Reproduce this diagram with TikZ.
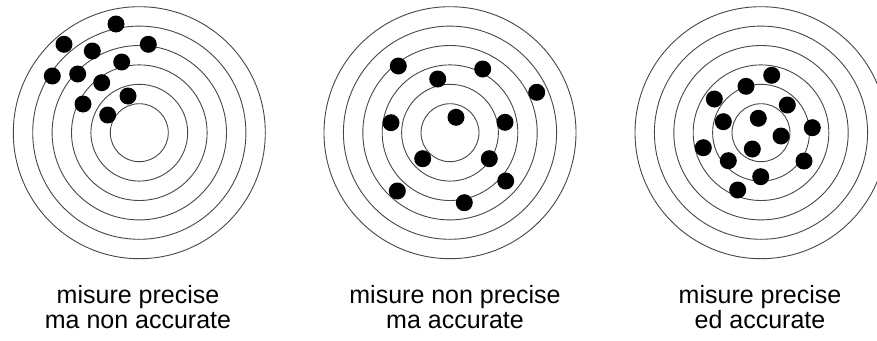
\documentclass[tikz,border=0pt]{standalone}
\usepackage{fontspec}
\setmainfont{Liberation Sans}
\usetikzlibrary{positioning}
\tikzset{
  ring/.style = {draw=black!72, line width=0.9pt},
  hit/.style = {circle, fill=black, inner sep=0pt, minimum size=17pt},
  caption/.style = {align=center, inner sep=0pt,
    font=\fontsize{25}{25}\selectfont},
}

\begin{document}
\begin{tikzpicture}[x=1pt, y=-1pt]
  \useasboundingbox (0,0) rectangle (877,340);
  \clip (0,0) rectangle (877,340);

  % target centres
  \coordinate (tA) at (139.3,132.7);
  \coordinate (tB) at (450,132.7);
  \coordinate (tC) at (761,132.7);

  % rings
  \foreach \t in {tA,tB,tC}
    \foreach \r in {29,48.4,67.8,87.2,106.6,126}
      \draw[ring] (\t) circle[radius=\r pt];

  % precise, not accurate
  \foreach \p [count=\i] in {(116,24),(64,44.3),(92.3,51),(148.3,44.3),
      (121.7,62),(52.3,76),(77.7,74),(101.7,82.7),(83,104),(128,96),
      (107.7,115)}
    \node[hit] (a\i) at \p {};

  % not precise, accurate
  \foreach \p [count=\i] in {(398.3,66),(437.7,79),(482.7,69),(536.7,92.3),
      (391,122.7),(456,117.3),(505,122.3),(422.7,158.7),(489.3,158.7),
      (505.7,181),(397.3,191),(464.3,202.7)}
    \node[hit] (b\i) at \p {};

  % precise and accurate
  \foreach \p [count=\i] in {(771.7,75.3),(746,86.3),(714.3,99),(787.3,105),
      (723.3,121.7),(758.3,118.3),(812.3,127.7),(781,136),(703.3,147.7),
      (752.3,149),(728.3,160.7),(804,161),(760.7,176.7),(737.7,190)}
    \node[hit] (c\i) at \p {};

  % captions
  \node[caption, anchor=base] (capA) at (138,328)
    {misure precise\\ma non accurate};
  \node[caption, anchor=base] (capB) at (455,328)
    {misure non precise\\ma accurate};
  \node[caption, anchor=base] (capC) at (760,328)
    {misure precise\\ed accurate};

\end{tikzpicture}
\end{document}
